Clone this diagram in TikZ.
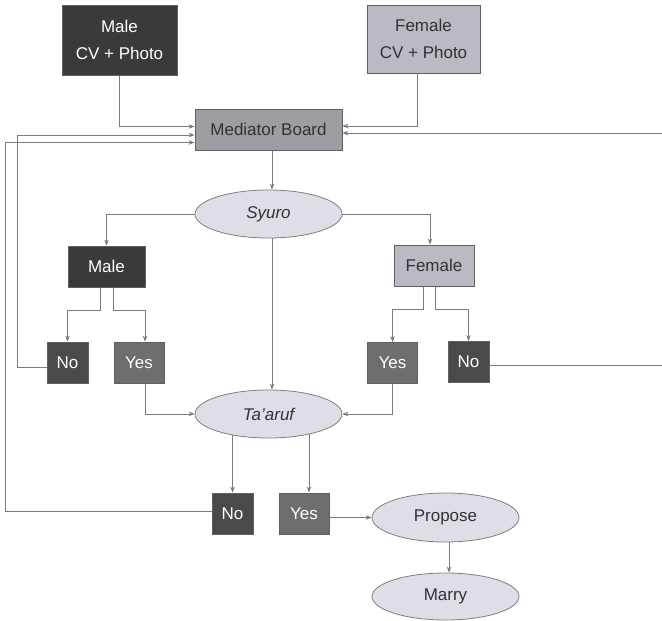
\documentclass[tikz,border=0pt]{standalone}
\usepackage{fontspec}
\setmainfont{Liberation Sans}
\definecolor{darkgrey}{RGB}{58, 58, 61}
\definecolor{nogrey}{RGB}{74, 74, 77}
\definecolor{yesgrey}{RGB}{110, 110, 113}
\definecolor{femalegrey}{RGB}{186, 186, 194}
\definecolor{boardgrey}{RGB}{157, 157, 164}
\definecolor{ovalgrey}{RGB}{222, 222, 230}
\definecolor{edgegrey}{RGB}{95, 95, 100}
\definecolor{linegrey}{RGB}{122, 122, 128}
\definecolor{textgrey}{RGB}{50, 50, 52}
\usetikzlibrary{shapes.geometric, arrows.meta, positioning, backgrounds}

\begin{document}
\begin{tikzpicture}[
      x=1pt, y=-1pt, font=\fontsize{17}{27}\selectfont,
      sqbox/.style={rectangle, draw=edgegrey, line width=0.8pt, inner sep=0pt, align=center},
      darkbox/.style={sqbox, fill=darkgrey, text=white},
      femalebox/.style={sqbox, fill=femalegrey, text=textgrey},
      boardbox/.style={sqbox, fill=boardgrey, text=textgrey, minimum width=147pt, minimum height=41pt},
      nobox/.style={sqbox, fill=nogrey, text=white, minimum width=41pt, minimum height=41pt},
      yesbox/.style={sqbox, fill=yesgrey, text=white, minimum width=50pt, minimum height=41pt},
      oval/.style={ellipse, draw=edgegrey!80, line width=0.8pt, fill=ovalgrey, text=textgrey, inner sep=0pt, minimum width=147pt, minimum height=48pt},
      line/.style={draw, line width=0.9pt, linegrey, -{Stealth[length=6pt, width=4.5pt]}}
    ]
      \useasboundingbox (0,0) rectangle (662,621);
      \node (mcv) [darkbox, minimum width=115pt, minimum height=70pt] at (119.5,40) {Male\\CV + Photo};
      \node (fcv) [femalebox, minimum width=113pt, minimum height=68pt] at (423.5,39) {Female\\CV + Photo};
      \node (board) [boardbox] at (268.5,129.5) {Mediator Board};
      \node (syuro) [oval] at (268.5,214) {\itshape Syuro};
      \node (male) [darkbox, minimum width=77pt, minimum height=41pt] at (106.5,266.5) {Male};
      \node (female) [femalebox, minimum width=80pt, minimum height=41pt] at (434,265.5) {Female};
      \node (mno) [nobox] at (67.5,362.5) {No};
      \node (myes) [yesbox] at (139,362.5) {Yes};
      \node (fyes) [yesbox] at (392.5,363) {Yes};
      \node (fno) [nobox] at (468.5,362) {No};
      \node (taaruf) [oval] at (268.5,414) {\itshape Ta'aruf};
      \node (tno) [nobox] at (232.5,513.5) {No};
      \node (tyes) [yesbox] at (304,513.5) {Yes};
      \node (propose) [oval, minimum height=49pt] at (445.5,517.5) {Propose};
      \node (marry) [oval, minimum height=47pt] at (445.5,596.5) {Marry};

      % turning points of the loops back to the board
      \coordinate (mloop) at (17,0);
      \coordinate (tloop) at (5,0);
      \coordinate (floop) at (690,0);

      \begin{scope}[on background layer]
      \draw[line] (mcv.south) |- ([yshift=3pt]board.west);
      \draw[line] ([xshift=-6.5pt]fcv.south) |- ([yshift=3.5pt]board.east);
      \draw[line] ([yshift=-4.5pt]mno.west) -- ([yshift=-4.5pt]mno.west -| mloop) |- ([yshift=-5.5pt]board.west);
      \draw[line] ([yshift=2.5pt]tno.west) -- ([yshift=2.5pt]tno.west -| tloop) |- ([yshift=-13pt]board.west);
      \draw[line] ([yshift=-3pt]fno.east) -- ([yshift=-3pt]fno.east -| floop) |- ([yshift=-3.6pt]board.east);
      \draw[line] ([xshift=3.5pt]board.south) -- ([xshift=3.5pt]syuro.north);
      \draw[line] (syuro.west) -| (male.north);
      \draw[line] (syuro.east) -| ([xshift=-4pt]female.north);
      \draw[line] ([xshift=-6.5pt]male.south) -- ++(0,23) -| (mno.north);
      \draw[line] ([xshift=6.5pt]male.south) -- ++(0,23) -| ([xshift=6pt]myes.north);
      \draw[line] ([xshift=-11pt]female.south) -- ++(0,23) -| (fyes.north);
      \draw[line] ([xshift=1pt]female.south) -- ++(0,23) -| (fno.north);
      \draw[line] ([xshift=3.5pt]syuro.south) -- ([xshift=3.5pt]taaruf.north);
      \draw[line] ([xshift=6pt]myes.south) |- (taaruf.west);
      \draw[line] (fyes.south) |- (taaruf.east);
      \draw[line] (tno.north |- taaruf.center) -- (tno.north);
      \draw[line] ([xshift=5pt]tyes.north |- taaruf.center) -- ([xshift=5pt]tyes.north);
      \draw[line] (tyes.east |- propose.west) -- (propose.west);
      \draw[line] ([xshift=3.5pt]propose.south) -- ([xshift=3.5pt]marry.north);
      \end{scope}
    \end{tikzpicture}
\end{document}
